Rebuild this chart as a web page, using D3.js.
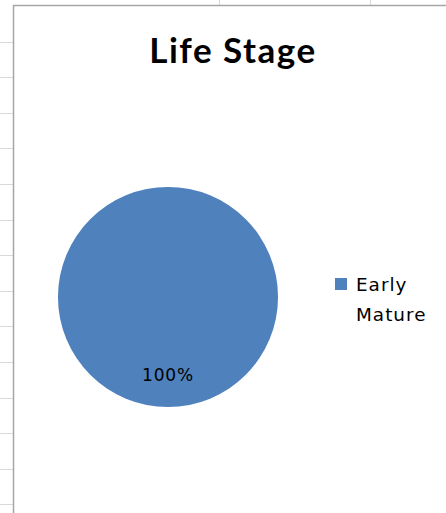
<!DOCTYPE html>
<html>
<head>
<meta charset="utf-8">
<script src="https://cdn.jsdelivr.net/npm/d3@7"></script>
<style>
  body { margin: 0; background: #fff; }
  svg { display: block; }
</style>
</head>
<body>
<div id="chart"></div>
<script>
// Pie chart: Life Stage
const categories = ["Early Mature"];
const values = [1];
const legendLines = [["Early", "Mature"]];
const title = "Life Stage";

const width = 446, height = 513;

const svg = d3.select("#chart")
  .append("svg")
  .attr("width", width)
  .attr("height", height);

// spreadsheet cells behind the chart
const rowLines = d3.range(0, 15).map(i => 41.5 + i * 35.6);
svg.append("g")
  .selectAll("line")
  .data(rowLines)
  .join("line")
  .attr("x1", 0).attr("x2", 13)
  .attr("y1", d => Math.round(d) + 0.5).attr("y2", d => Math.round(d) + 0.5)
  .attr("stroke", "#d9d9d9");
svg.append("g")
  .selectAll("line")
  .data([219.5, 370.5])
  .join("line")
  .attr("x1", d => d).attr("x2", d => d)
  .attr("y1", 0).attr("y2", 5)
  .attr("stroke", "#d9d9d9");

// chart area border
svg.append("rect")
  .attr("x", 13.5).attr("y", 5.5)
  .attr("width", width + 10).attr("height", height + 10)
  .attr("fill", "#fff")
  .attr("stroke", "#a6a6a6")
  .attr("stroke-width", 1.5);

svg.append("text")
  .attr("x", 233).attr("y", 63)
  .attr("text-anchor", "middle")
  .attr("font-family", "Lato, 'Open Sans', sans-serif")
  .attr("font-weight", "bold")
  .attr("font-size", 35)
  .attr("letter-spacing", 1.5)
  .attr("fill", "#000")
  .text(title);

const color = d3.scaleOrdinal(categories, ["#4f81bd"]);

const pie = d3.pie().sort(null)(values);
const radius = 110;
const arc = d3.arc().innerRadius(0).outerRadius(radius);

const g = svg.append("g").attr("transform", "translate(168,297)");

g.selectAll("path")
  .data(pie)
  .join("path")
  .attr("d", arc)
  .attr("fill", (d, i) => color(categories[i]));

// data label sits low in the slice, as Excel does for a full circle
const fmt = d3.format(".0%");
const total = d3.sum(values);
g.selectAll("text")
  .data(pie)
  .join("text")
  .attr("x", 0)
  .attr("y", 84)
  .attr("text-anchor", "middle")
  .attr("font-family", "'DejaVu Sans', sans-serif")
  .attr("font-size", 17)
  .attr("letter-spacing", 0.8)
  .attr("fill", "#000")
  .text(d => fmt(d.data / total));

// legend
const legend = svg.append("g")
  .selectAll("g")
  .data(categories)
  .join("g")
  .attr("transform", (d, i) => `translate(335,${278 + i * 60})`);

legend.append("rect")
  .attr("width", 12).attr("height", 12)
  .attr("fill", d => color(d));

legend.append("text")
  .attr("font-family", "'DejaVu Sans', sans-serif")
  .attr("font-size", 18.4)
  .attr("letter-spacing", 1)
  .attr("fill", "#000")
  .selectAll("tspan")
  .data((d, i) => legendLines[i])
  .join("tspan")
  .attr("x", 21)
  .attr("y", (d, i) => 13 + i * 30)
  .text(d => d);
</script>
</body>
</html>
